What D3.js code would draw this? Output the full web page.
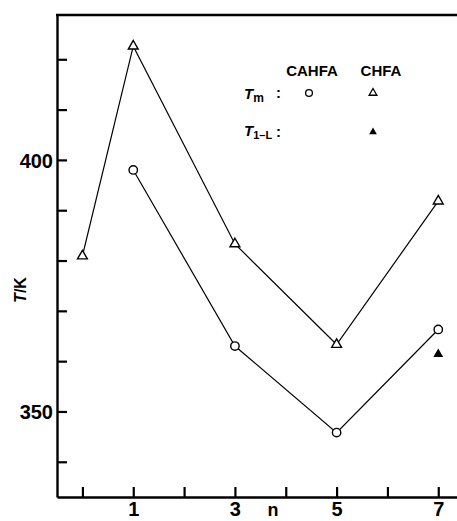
<!DOCTYPE html>
<html>
<head>
<meta charset="utf-8">
<script src="https://cdn.jsdelivr.net/npm/d3@7"></script>
<style>
    body { margin: 0; background: #fff; }
    svg { display: block; }
    text { font-family: 'Liberation Sans', Arial, sans-serif; fill: #000; }
</style>
</head>
<body>
<div id="chart"></div>
<script>
// data
var chfaN = [0, 1, 3, 5, 7];
var chfaTm = [380.9, 422.6, 383.3, 363.3, 391.8];
var cahfaN = [1, 3, 5, 7];
var cahfaTm = [398.0, 363.0, 345.8, 366.3];
var chfaTilN = [7];
var chfaTil = [361.4];

// ticks
var xTicks = [0, 1, 2, 3, 4, 5, 6, 7];
var xTickLabels = [1, 3, 5, 7];
var yTicks = [340, 350, 360, 370, 380, 390, 400, 410, 420];
var yTickLabels = [350, 400];

// svg area
var svgWidth = 457;
var svgHeight = 521;

var svg = d3.select('#chart')
    .append('svg')
    .attr('width', svgWidth)
    .attr('height', svgHeight);

// scales
var xScale = d3.scaleLinear()
    .domain([-0.5, 7.4])
    .range([57, 458.6]);

var yScale = d3.scaleLinear()
    .domain([333, 428.8])
    .range([497, 15]);

var x0 = xScale.range()[0];
var yBottom = yScale.range()[0];
var yTop = yScale.range()[1];

// axes, ticks pointing inward
var bottomAxis = d3.axisBottom(xScale)
    .tickValues(xTicks)
    .tickSizeInner(-10)
    .tickSizeOuter(0)
    .tickPadding(8)
    .tickFormat(d => xTickLabels.indexOf(d) >= 0 ? d : '');

var leftAxis = d3.axisLeft(yScale)
    .tickValues(yTicks)
    .tickSizeInner(-10)
    .tickSizeOuter(0)
    .tickPadding(4)
    .tickFormat(d => yTickLabels.indexOf(d) >= 0 ? d : '');

var xAxisG = svg.append('g')
    .attr('transform', `translate(0, ${yBottom})`)
    .call(bottomAxis);

var yAxisG = svg.append('g')
    .attr('transform', `translate(${x0}, 0)`)
    .call(leftAxis);

[xAxisG, yAxisG].forEach(g => {
    g.select('.domain').attr('stroke', '#000').attr('stroke-width', 2.4);
    g.selectAll('.tick line').attr('stroke', '#000').attr('stroke-width', 2.2);
    g.selectAll('.tick text')
        .attr('font-size', 20)
        .attr('font-weight', 'bold')
        .attr('font-family', "'Liberation Sans', Arial, sans-serif")
        .attr('fill', '#000');
});
xAxisG.selectAll('.tick text').attr('dy', '0.71em').attr('y', 5);
yAxisG.selectAll('.tick text').attr('dy', '0.36em');

// top frame line
svg.append('line')
    .attr('x1', x0 - 1)
    .attr('x2', svgWidth)
    .attr('y1', yTop)
    .attr('y2', yTop)
    .attr('stroke', '#000')
    .attr('stroke-width', 2.4);

// axis titles
svg.append('text')
    .attr('x', 273)
    .attr('y', 516)
    .attr('text-anchor', 'middle')
    .attr('font-size', 18)
    .attr('font-weight', 'bold')
    .text('n');

var yTitle = svg.append('text')
    .attr('transform', 'translate(26, 290) rotate(-90)')
    .attr('text-anchor', 'middle')
    .attr('font-size', 16)
    .attr('font-weight', 'bold');
yTitle.append('tspan').attr('font-style', 'italic').text('T');
yTitle.append('tspan').text('/K');

// connecting lines
var line = d3.line()
    .x(d => xScale(d[0]))
    .y(d => yScale(d[1]));

var chfaData = d3.zip(chfaN, chfaTm);
var cahfaData = d3.zip(cahfaN, cahfaTm);
var tilData = d3.zip(chfaTilN, chfaTil);

[chfaData, cahfaData].forEach(data => {
    svg.append('path')
        .datum(data)
        .attr('d', line)
        .attr('fill', 'none')
        .attr('stroke', '#000')
        .attr('stroke-width', 1.2);
});

// markers
var triangle = d3.symbol().type(d3.symbolTriangle).size(42);

svg.selectAll('.chfa')
    .data(chfaData)
    .enter()
    .append('path')
    .attr('class', 'chfa')
    .attr('d', triangle)
    .attr('transform', d => `translate(${xScale(d[0])}, ${yScale(d[1])})`)
    .attr('fill', '#fff')
    .attr('stroke', '#000')
    .attr('stroke-width', 1.4);

svg.selectAll('.cahfa')
    .data(cahfaData)
    .enter()
    .append('circle')
    .attr('class', 'cahfa')
    .attr('cx', d => xScale(d[0]))
    .attr('cy', d => yScale(d[1]))
    .attr('r', 4.2)
    .attr('fill', '#fff')
    .attr('stroke', '#000')
    .attr('stroke-width', 1.4);

svg.selectAll('.til')
    .data(tilData)
    .enter()
    .append('path')
    .attr('class', 'til')
    .attr('d', triangle)
    .attr('transform', d => `translate(${xScale(d[0])}, ${yScale(d[1])})`)
    .attr('fill', '#000');

// legend
var legend = svg.append('g');

legend.append('text')
    .attr('x', 312).attr('y', 76)
    .attr('text-anchor', 'middle')
    .attr('font-size', 15).attr('font-weight', 'bold')
    .text('CAHFA');
legend.append('text')
    .attr('x', 381).attr('y', 76)
    .attr('text-anchor', 'middle')
    .attr('font-size', 15).attr('font-weight', 'bold')
    .text('CHFA');

var tm = legend.append('text').attr('x', 244).attr('y', 99).attr('font-size', 15).attr('font-weight', 'bold');
tm.append('tspan').attr('font-style', 'italic').text('T');
tm.append('tspan').attr('dy', 3).attr('font-size', 12).text('m');
legend.append('text').attr('x', 276).attr('y', 98).attr('font-size', 15).attr('font-weight', 'bold').text(':');

var til = legend.append('text').attr('x', 244).attr('y', 136).attr('font-size', 15).attr('font-weight', 'bold');
til.append('tspan').attr('font-style', 'italic').text('T');
til.append('tspan').attr('dy', 3).attr('font-size', 11).text('1–L');
legend.append('text').attr('x', 276).attr('y', 137).attr('font-size', 15).attr('font-weight', 'bold').text(':');

legend.append('circle')
    .attr('cx', 309).attr('cy', 93).attr('r', 3.4)
    .attr('fill', '#fff').attr('stroke', '#000').attr('stroke-width', 1.3);

var smallTriangle = d3.symbol().type(d3.symbolTriangle).size(26);
legend.append('path')
    .attr('d', smallTriangle)
    .attr('transform', 'translate(373, 93)')
    .attr('fill', '#fff').attr('stroke', '#000').attr('stroke-width', 1.3);
legend.append('path')
    .attr('d', smallTriangle)
    .attr('transform', 'translate(373, 132)')
    .attr('fill', '#000');
</script>
</body>
</html>
